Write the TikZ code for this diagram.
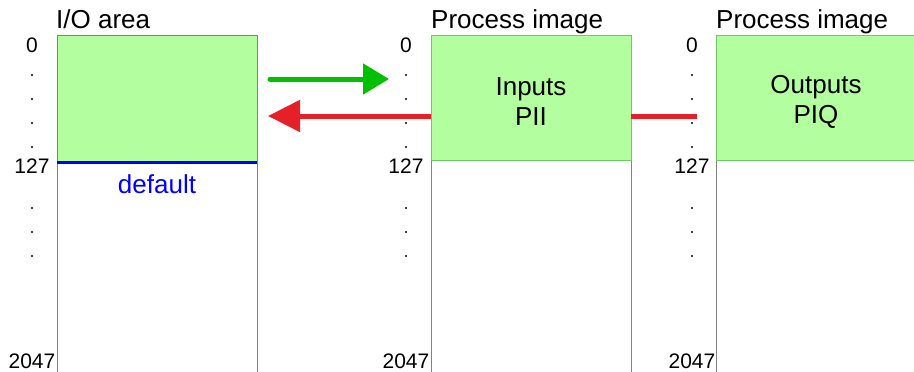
\documentclass[tikz,border=0pt]{standalone}
\usepackage{fontspec}
\setmainfont{Liberation Sans}
\usetikzlibrary{arrows.meta}
\definecolor{boxgreen}{RGB}{179,255,160}
\definecolor{edgegreen}{RGB}{110,200,100}
\definecolor{arrgreen}{RGB}{0,192,0}
\definecolor{arrred}{RGB}{230,32,40}
\definecolor{edgegray}{RGB}{130,130,130}
\begin{document}
\begin{tikzpicture}[x=1pt,y=-1pt,
  greenbox/.style={draw=edgegreen, fill=boxgreen, line width=1pt, minimum width=200pt, minimum height=125pt, anchor=north west, inner sep=0pt, outer sep=0pt},
  lowbox/.style={draw=edgegray, line width=1pt, minimum width=200pt, minimum height=240pt, anchor=north west, inner sep=0pt, outer sep=0pt},
  boxtext/.style={align=center, inner sep=0pt, font=\fontsize{26}{30}\selectfont},
  title/.style={anchor=base west, inner sep=0pt, font=\fontsize{26}{30}\selectfont},
  num/.style={anchor=base, inner sep=0pt, font=\fontsize{21}{25}\selectfont},
  dotmark/.style={circle, fill=black, inner sep=0pt, minimum size=2.3pt},
  greenarrow/.style={draw=arrgreen, line width=5pt, line cap=round, -{Triangle[length=26pt,width=30pt]}},
  redarrow/.style={draw=arrred, line width=5pt, -{Triangle[length=32pt,width=31pt]}},
  redline/.style={draw=arrred, line width=5pt}
]
\path[use as bounding box, clip] (0,0) rectangle (914,372);
\fill[white] (0,0) rectangle (914,372);

% lower (white) parts
\node[lowbox] (iolow) at (57,161) {};
\node[lowbox] (piilow) at (431,160) {};
\node[lowbox, minimum width=220pt] (piqlow) at (716,160) {};

% green parts
\node[greenbox, draw=edgegray, minimum height=126pt] (io) at (57,35) {};
\node[greenbox] (pii) at (431,35) {};
\node[greenbox, minimum width=220pt] (piq) at (716,35) {};

\node[boxtext] (piitext) at ([yshift=-4pt]pii.center) {Inputs\\PII};
\node[boxtext] (piqtext) at (816,101.5) {Outputs\\PIQ};

% blue default line
\draw[blue, line width=3pt] ([yshift=-1.5pt]io.south west) -- ([yshift=-1.5pt]io.south east);
\node[num, blue, font=\fontsize{26}{30}\selectfont] (def) at (157,193) {default};

% titles
\node[title] (t1) at (56,28) {I/O area};
\node[title] (t2) at (431,28) {Process image};
\node[title] (t3) at (716,28) {Process image};

% address numbers
\foreach \c/\x in {a/32, b/406, c/692} {
  \node[num] (\c0) at (\x,52) {0};
  \node[num] (\c127) at (\x,173) {127};
  \node[num] (\c2047) at (\x,368) {2047};
  \foreach \y [count=\i] in {75,99,123,147,208,232,256} {
    \node[dotmark] (\c d\i) at (\x,\y) {};
  }
}

% arrows
\coordinate (gs) at (270,79);
\coordinate (ge) at (389,79);
\coordinate (rt) at (268,116);
\coordinate (re) at (697,116);
\draw[greenarrow] (gs) -- (ge);
\draw[redarrow] (pii.west |- rt) -- (rt);
\draw[redline] (pii.east |- rt) -- (re);
\end{tikzpicture}
\end{document}
